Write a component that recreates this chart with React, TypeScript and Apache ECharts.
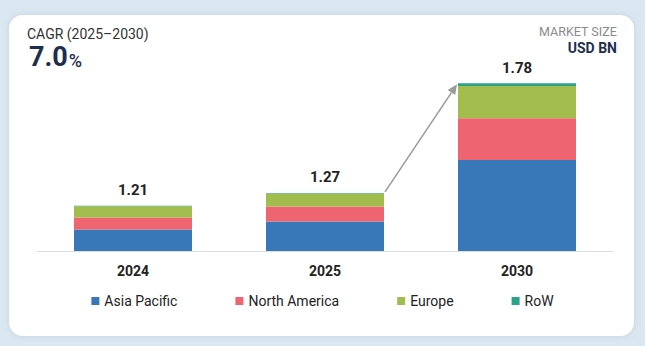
import React, { useEffect, useRef } from "react";
import * as echarts from "echarts";

const categories = ["2024", "2025", "2030"];
const totals = [1.21, 1.27, 1.78];
const asiaPacific = [1.1, 1.137, 1.423];
const northAmerica = [0.056, 0.07, 0.195];
const europe = [0.052, 0.06, 0.149];
const row = [0.002, 0.003, 0.013];
const seriesNames = ["Asia Pacific", "North America", "Europe", "RoW"];
const colors = ["#3878b9", "#ee6470", "#a2bd4e", "#2aa38a"];

const FONT = "Roboto, 'Noto Sans', sans-serif";

export default function App() {
  const ref = useRef<HTMLDivElement>(null);
  useEffect(() => {
    if (!ref.current) return;
    const chart = echarts.init(ref.current, null, { renderer: "svg" });
    const dataSets = [asiaPacific, northAmerica, europe, row];
    const series: any[] = dataSets.map((d, i) => ({
      name: seriesNames[i],
      type: "bar",
      stack: "total",
      barWidth: 118,
      data: d,
      itemStyle: { color: colors[i] },
      label:
        i === 3
          ? {
              show: true,
              position: "top",
              distance: 8,
              formatter: (p: any) => totals[p.dataIndex].toFixed(2),
              fontFamily: FONT,
              fontSize: 15,
              fontWeight: "bold",
              color: "#222",
            }
          : { show: false },
    }));
    const baseGraphic: any[] = [
      {
        type: "rect",
        z: -10,
        shape: { x: 9, y: 15, width: 625, height: 321, r: 14 },
        style: { fill: "#ffffff", shadowBlur: 6, shadowColor: "rgba(120,150,180,0.25)" },
      },
      {
        type: "text",
        left: 27,
        top: 27,
        style: { text: "CAGR (2025–2030)", fontFamily: FONT, fontSize: 14, fill: "#333" },
      },
      {
        type: "text",
        left: 29,
        top: 43,
        style: {
          text: "{a|7.0}{b|%}",
          fontFamily: FONT,
          rich: {
            a: { fontFamily: FONT, fontSize: 27, fontWeight: "bold", fill: "#1d2f4d", color: "#1d2f4d" },
            b: { fontFamily: FONT, fontSize: 18, fontWeight: 500, fill: "#1d2f4d", color: "#1d2f4d", padding: [7, 0, 0, 1] },
          },
        },
      },
      {
        type: "text",
        right: 28,
        top: 25,
        style: { text: "MARKET SIZE", fontFamily: FONT, fontSize: 12.5, fill: "#8a8a8a" },
      },
      {
        type: "text",
        right: 28,
        top: 41,
        style: { text: "USD BN", fontFamily: FONT, fontSize: 14, fontWeight: "bold", fill: "#1d2f4d" },
      },
    ];
    chart.setOption({
      animation: false,
      backgroundColor: "#dbe7f1",
      grid: { left: 37, right: 32, top: 79, bottom: 95 },
      xAxis: {
        type: "category",
        data: categories,
        axisLine: { lineStyle: { color: "#dddddd", width: 1 } },
        axisTick: { show: false },
        axisLabel: { fontFamily: FONT, fontSize: 14, fontWeight: "bold", color: "#222", margin: 13 },
      },
      yAxis: { type: "value", min: 1.0, max: 1.8, show: false, splitLine: { show: false } },
      legend: {
        bottom: 33,
        left: "center",
        itemWidth: 8,
        itemHeight: 8,
        itemGap: 58,
        icon: "rect",
        textStyle: { fontFamily: FONT, fontSize: 14, color: "#222" },
        data: seriesNames,
      },
      series,
      graphic: baseGraphic,
    });
    const half = 59;
    const p1 = chart.convertToPixel({ xAxisIndex: 0, yAxisIndex: 0 }, [categories[1], totals[1]]) as number[];
    const p2 = chart.convertToPixel({ xAxisIndex: 0, yAxisIndex: 0 }, [categories[2], totals[2]]) as number[];
    const x1 = p1[0] + half + 1, y1 = p1[1] - 1;
    const x2 = p2[0] - half - 1, y2 = p2[1] + 1;
    const dx = x2 - x1, dy = y2 - y1;
    const len = Math.sqrt(dx * dx + dy * dy);
    const ux = dx / len, uy = dy / len;
    const hl = 10, hw = 4.5;
    const bx = x2 - ux * hl, by = y2 - uy * hl;
    chart.setOption({
      graphic: [
        ...baseGraphic,
        {
          type: "line",
          shape: { x1, y1, x2: bx, y2: by },
          style: { stroke: "#9a9a9a", lineWidth: 1.5 },
        },
        {
          type: "polygon",
          shape: {
            points: [
              [x2, y2],
              [bx - uy * hw, by + ux * hw],
              [bx + uy * hw, by - ux * hw],
            ],
          },
          style: { fill: "#9a9a9a" },
        },
      ],
    });
    return () => chart.dispose();
  }, []);
  return (
    <div style={{ position: "fixed", left: 0, top: 0, width: 645, height: 346 }}>
      <div ref={ref} style={{ width: 645, height: 346 }} />
    </div>
  );
}
